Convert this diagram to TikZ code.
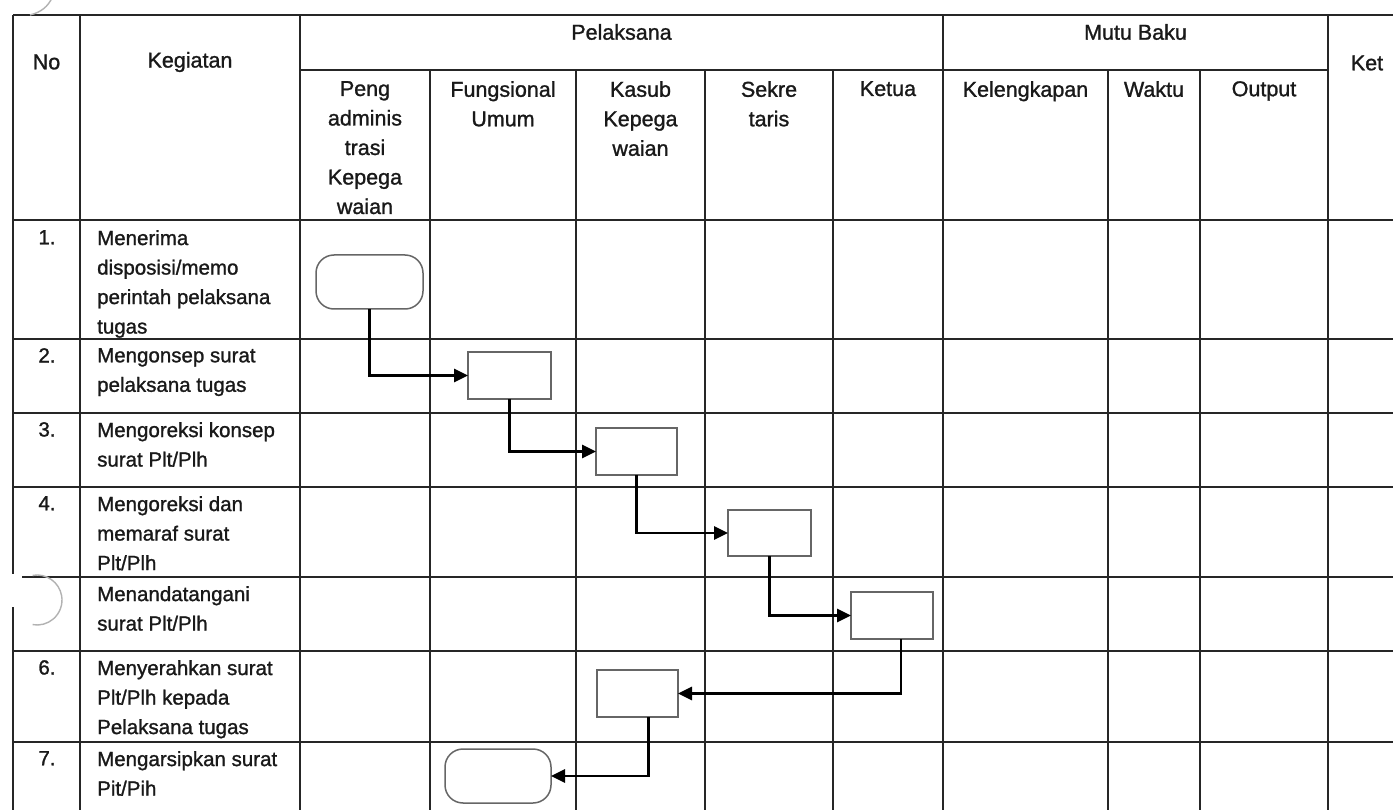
\documentclass[tikz,border=0pt]{standalone}
\usepackage{fontspec}
\setmainfont{Liberation Sans}[FakeBold=1.2]
\usetikzlibrary{arrows.meta}
\begin{document}
\begin{tikzpicture}[x=1pt,y=-1pt,
  gridline/.style={draw=black!85, line width=2.3pt},
  hdr/.style={font=\fontsize{21.5}{29.5}\selectfont, text=black!90, inner sep=0pt, align=center},
  txt/.style={font=\fontsize{20.5}{29.5}\selectfont, text=black!90, inner sep=0pt, align=left, anchor=north west},
  num/.style={font=\fontsize{20.5}{29.5}\selectfont, text=black!90, inner sep=0pt, anchor=north},
  proc/.style={draw=black!60, line width=1.5pt, fill=white, inner sep=0pt, outer sep=0pt},
  term/.style={proc, rounded corners=18pt},
  flow/.style={draw=black, line width=2.7pt, -{Triangle[length=14pt,width=13pt]}},
  punch/.style={draw=black!30, line width=1.4pt}]
\useasboundingbox (0,0) rectangle (1393,810);
\clip (0,0) rectangle (1393,810);
\fill[white] (0,0) rectangle (1393,810);
% grid
\foreach \yy in {15,220,339,413,487,577,651,742}
  \draw[gridline] (13,\yy) -- (1406,\yy);
\draw[gridline] (300,70) -- (1328,70);
\foreach \xx in {13,80,300,943,1328,1406}
  \draw[gridline] (\xx,15) -- (\xx,830);
\foreach \xx in {430,576,705,833,1108,1200}
  \draw[gridline] (\xx,70) -- (\xx,830);
% scan artifacts (hole punches)
\fill[white] (4,574) rectangle (22,607);
\draw[punch] (37,600) ++(-100:25) arc[start angle=-100, end angle=100, radius=25];
\draw[punch] (30,15) .. controls (42,12) and (48,6) .. (52,-2);
% header
\node[hdr] (hNo) at (46.5,62) {No};
\node[hdr] (hKeg) at (190,62) {Kegiatan};
\node[hdr] (hPel) at (621.5,32) {Pelaksana};
\node[hdr] (hMutu) at (1135.5,32) {Mutu Baku};
\node[hdr] (hKet) at (1367,63) {Ket};
\node[hdr, anchor=north] (hPeng) at (365,81) {Peng\\adminis\\trasi\\Kepega\\waian};
\node[hdr, anchor=north] (hFung) at (503,81) {Fungsional\\Umum};
\node[hdr, anchor=north] (hKasub) at (640.5,81) {Kasub\\Kepega\\waian};
\node[hdr, anchor=north] (hSek) at (769,81) {Sekre\\taris};
\node[hdr, anchor=north] (hKetua) at (888,81) {Ketua};
\node[hdr, anchor=north] (hKel) at (1025.5,81) {Kelengkapan};
\node[hdr, anchor=north] (hWak) at (1154,81) {Waktu};
\node[hdr, anchor=north] (hOut) at (1264,81) {Output};
% rows
\node[num] (n1) at (47,230) {1.};
\node[txt] (k1) at (97,230) {Menerima\\disposisi/memo\\perintah pelaksana\\tugas};
\node[num] (n2) at (47,348) {2.};
\node[txt] (k2) at (97,348) {Mengonsep surat\\pelaksana tugas};
\node[num] (n3) at (47,422) {3.};
\node[txt] (k3) at (97,422) {Mengoreksi konsep\\surat Plt/Plh};
\node[num] (n4) at (47,496) {4.};
\node[txt] (k4) at (97,496) {Mengoreksi dan\\memaraf surat\\Plt/Plh};
\node[txt] (k5) at (97,586) {Menandatangani\\surat Plt/Plh};
\node[num] (n6) at (47,660) {6.};
\node[txt] (k6) at (97,660) {Menyerahkan surat\\Plt/Plh kepada\\Pelaksana tugas};
\node[num] (n7) at (47,751) {7.};
\node[txt] (k7) at (97,751) {Mengarsipkan surat\\Pit/Pih};
% flow shapes
\node[term, minimum width=107pt, minimum height=54pt] (t1) at (369.5,282) {};
\node[proc, minimum width=83pt, minimum height=47pt] (b2) at (509.5,375.5) {};
\node[proc, minimum width=81pt, minimum height=47pt] (b3) at (636.5,451.5) {};
\node[proc, minimum width=83pt, minimum height=46pt] (b4) at (769.5,533) {};
\node[proc, minimum width=82pt, minimum height=47pt] (b5) at (892,615.5) {};
\node[proc, minimum width=81pt, minimum height=47pt] (b6) at (637.5,693.5) {};
\node[term, minimum width=106pt, minimum height=54pt] (t7) at (498,776) {};
% connectors
\draw[flow] (t1.south) |- (b2.west);
\draw[flow] (b2.south) |- (b3.west);
\draw[flow] (b3.south) |- (b4.west);
\draw[flow] (b4.south) |- (b5.west);
\draw[flow] ([xshift=9pt]b5.south) |- (b6.east);
\draw[flow] ([xshift=11pt]b6.south) |- (t7.east);
\end{tikzpicture}
\end{document}
